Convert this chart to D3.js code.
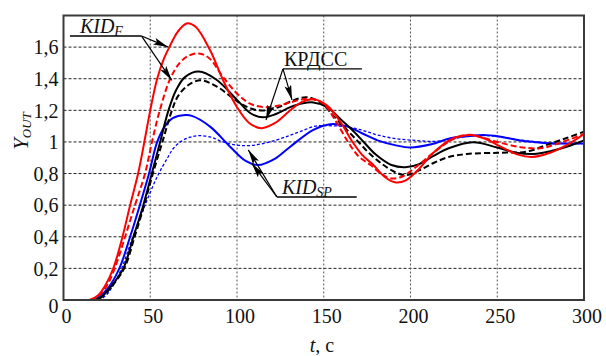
<!DOCTYPE html>
<html><head><meta charset="utf-8">
<script src="https://cdn.jsdelivr.net/npm/d3@7/dist/d3.min.js"></script>
<style>body{margin:0;background:#fff}svg{display:block}svg text{font-family:"Liberation Serif","DejaVu Serif","Times New Roman",serif !important;fill:#111}</style>
</head><body>
<svg id="c" width="606" height="356"></svg>
<script>
// ---- data ----
const xTicks = [0, 50, 100, 150, 200, 250, 300];
const yTicks = [0, 0.2, 0.4, 0.6, 0.8, 1, 1.2, 1.4, 1.6];
const yTickLabels = ["0", "0,2", "0,4", "0,6", "0,8", "1", "1,2", "1,4", "1,6"];

// KID_F (red)
const kidFSolid = [[0,0],[15,0],[20,0.03],[24,0.09],[28.7,0.2],[34,0.4],[38.4,0.6],[43,0.8],[46.6,1.0],[50,1.2],[54,1.4],[58,1.53],[61,1.6],[66,1.7],[71,1.75],[76,1.73],[84.5,1.58],[92,1.39],[100,1.22],[107,1.12],[114,1.087],[122,1.12],[130.7,1.2],[137,1.25],[144,1.27],[152,1.23],[160,1.12],[166.6,1.0],[172,0.92],[178.6,0.854],[185,0.78],[191,0.745],[197,0.755],[205,0.83],[213,0.93],[225,1.025],[234.5,1.044],[243,1.02],[252,0.97],[262,0.92],[270,0.905],[280,0.93],[290,0.98],[300,1.05]];
const kidFDashed = [[0,0],[15,0],[20,0.025],[25,0.09],[29.5,0.2],[35.5,0.4],[41.2,0.6],[47,0.8],[51,1.0],[55.5,1.2],[61.5,1.4],[67,1.5],[72,1.545],[78,1.56],[84,1.53],[92,1.41],[101.8,1.287],[109,1.235],[117,1.22],[124,1.23],[130.7,1.25],[142,1.274],[150,1.24],[157,1.13],[164,1.0],[170,0.91],[177,0.854],[183,0.8],[188,0.77],[195,0.78],[203,0.84],[213,0.93],[225,1.02],[234,1.045],[241,1.03],[250,1.0],[262,0.97],[275,0.96],[285,0.99],[300,1.05]];
// КРДСС (black)
const krdssSolid = [[0,0],[18,0],[22,0.02],[27,0.08],[34.5,0.2],[40.3,0.4],[46,0.6],[50.9,0.8],[55.7,1.0],[60.5,1.2],[65,1.33],[70,1.41],[78,1.445],[88,1.395],[100,1.266],[108,1.18],[115,1.156],[122,1.175],[130.7,1.22],[138,1.245],[144,1.25],[152,1.22],[160,1.14],[166,1.08],[173,1.0],[180,0.92],[189,0.854],[197,0.84],[205,0.86],[213,0.91],[222,0.96],[236,0.998],[250,0.965],[262,0.93],[271,0.924],[280,0.94],[290,0.97],[300,1.01]];
const krdssDashed = [[0,0],[18,0],[22,0.02],[27,0.075],[35,0.2],[41,0.4],[46.5,0.6],[51.5,0.8],[57,1.0],[62.5,1.2],[66,1.29],[72,1.36],[79,1.39],[88.4,1.35],[101.8,1.245],[110,1.205],[117,1.2],[124,1.22],[130.7,1.255],[140,1.283],[148,1.25],[156,1.16],[163,1.08],[170,1.0],[177,0.92],[184.5,0.854],[191,0.81],[197,0.79],[205,0.82],[213,0.865],[222,0.905],[232.6,0.924],[251.8,0.932],[267,0.939],[280.7,0.99],[290,1.025],[300,1.065]];
// KID_SP (blue)
const kidSPSolid = [[0,0],[17,0],[21,0.025],[26,0.08],[32.2,0.2],[38.4,0.4],[44,0.6],[49.3,0.8],[54,1.0],[58.5,1.1],[63,1.15],[70,1.17],[74,1.165],[84.5,1.097],[96,0.97],[105,0.88],[112,0.854],[122,0.895],[130.7,0.97],[144,1.076],[153.7,1.112],[163,1.1],[172,1.055],[181,1.01],[191,0.98],[200,0.965],[212,0.985],[223,1.023],[232.6,1.036],[242,1.044],[251,1.035],[261.5,1.013],[271,1.0],[280.7,0.99],[290,0.99],[300,0.99]];
const kidSPDashed = [[0,0],[20,0],[24,0.025],[28,0.08],[33.5,0.2],[40,0.4],[47,0.6],[54,0.78],[60,0.9],[63.4,0.96],[68,1.005],[73,1.03],[78,1.04],[85,1.03],[92,1.0],[100,0.98],[107.6,0.977],[115,0.99],[123,1.013],[130,1.04],[136.4,1.065],[145,1.1],[152,1.103],[162,1.097],[172,1.075],[181,1.044],[192,1.02],[202.8,1.01],[213,1.003],[222,1.015],[232.6,1.036],[242,1.04],[250,1.035],[262,1.015],[276.6,0.996],[290,0.99],[300,0.99]];

// annotation anchors in data units
const annKIDF = {text:"KID", sub:"F", line:[[3.7,1.67],[45,1.67]], tips:[[60.3,1.6],[62.4,1.39]]};
const annKRDSS = {text:"КРДСС", line:[[126.5,1.462],[172,1.462]], tips:[[116.7,1.139],[131.7,1.266]]};
const annKIDSP = {text:"KID", sub:"SP", line:[[123,0.652],[169,0.652]], tips:[[106.5,0.95],[108.5,0.865]]};

// ---- chart ----
const FONT = '"Liberation Serif","DejaVu Serif","Times New Roman",serif';
const svg = d3.select("#c");
const L = 63.5, R = 584, T = 15.5, B = 300;
const x = d3.scaleLinear().domain([0, 300]).range([L, R]);
const y = d3.scaleLinear().domain([0, 1.8]).range([B, T]);

// grid
svg.append("g").selectAll("line").data(yTicks.filter(d => d > 0)).join("line")
  .attr("x1", L).attr("x2", R).attr("y1", d => y(d)).attr("y2", d => y(d))
  .attr("stroke", "#222").attr("stroke-width", 1).attr("stroke-dasharray", "3,2");
svg.append("g").selectAll("line").data(xTicks.filter(d => d > 0 && d < 300)).join("line")
  .attr("y1", T).attr("y2", B).attr("x1", d => x(d)).attr("x2", d => x(d))
  .attr("stroke", "#555").attr("stroke-width", 1).attr("stroke-dasharray", "2,2");

// curves
const line = d3.line().x(d => x(d[0])).y(d => y(d[1])).curve(d3.curveCatmullRom.alpha(0.5));
const series = [
  {d: kidSPDashed, c: "#0000ff", w: 1.3, dash: "3,2"},
  {d: kidSPSolid, c: "#0000ff", w: 2, dash: null},
  {d: krdssDashed, c: "#000", w: 2, dash: "6,3"},
  {d: krdssSolid, c: "#000", w: 2, dash: null},
  {d: kidFDashed, c: "#ff0000", w: 2, dash: "6,3"},
  {d: kidFSolid, c: "#ff0000", w: 2, dash: null}
];
const defs = svg.append("defs");
defs.append("clipPath").attr("id", "clip").append("rect").attr("x", L).attr("y", T).attr("width", R - L).attr("height", B - T);
svg.append("g").attr("clip-path", "url(#clip)").selectAll("path").data(series).join("path")
  .attr("d", s => line(s.d)).attr("fill", "none").attr("stroke", s => s.c)
  .attr("stroke-width", s => s.w).attr("stroke-dasharray", s => s.dash);

// frame
svg.append("rect").attr("x", L).attr("y", T).attr("width", R - L).attr("height", B - T)
  .attr("fill", "none").attr("stroke", "#3a3a3a").attr("stroke-width", 2);

// axes labels
const xAxis = d3.axisBottom(x).tickValues(xTicks).tickSize(0).tickPadding(0).tickFormat(d3.format("d"));
const gx = svg.append("g").attr("transform", `translate(0,${B})`).call(xAxis).attr("font-family", FONT);
gx.select(".domain").remove();
gx.selectAll("text").attr("font-size", 20).attr("dy", "0").attr("y", 23).attr("dx", 2.5).attr("fill", "#111");

const yAxis = d3.axisLeft(y).tickValues(yTicks).tickSize(0).tickPadding(0).tickFormat((d, i) => yTickLabels[i]);
const gy = svg.append("g").attr("transform", `translate(${L - 5},0)`).call(yAxis).attr("font-family", FONT);
gy.select(".domain").remove();
gy.selectAll("text").attr("font-size", 20).attr("dy", d => d === 0 ? "0.62em" : "0.34em").attr("fill", "#111");

// axis titles
const xt = svg.append("text").attr("x", 322).attr("y", 352).attr("text-anchor", "middle").attr("font-size", 20).attr("font-family", FONT);
xt.append("tspan").attr("font-style", "italic").text("t");
xt.append("tspan").text(", с");

const yt = svg.append("text").attr("transform", "translate(28,131) rotate(-90)").attr("text-anchor", "middle").attr("font-size", 21).attr("font-family", FONT);
yt.append("tspan").attr("font-style", "italic").text("Y");
yt.append("tspan").attr("font-style", "italic").attr("font-size", 13).attr("dy", 3).text("OUT");

// arrows
defs.append("marker").attr("id", "ah").attr("markerUnits", "userSpaceOnUse")
  .attr("markerWidth", 15).attr("markerHeight", 7).attr("refX", 15).attr("refY", 3.5).attr("orient", "auto")
  .append("path").attr("d", "M0,0 L15,3.5 L0,7 L3,3.5 Z").attr("fill", "#000");

function annotate(a, italic, from, shift) {
  const g = svg.append("g");
  g.append("line").attr("x1", x(a.line[0][0])).attr("y1", y(a.line[0][1]))
    .attr("x2", x(a.line[1][0])).attr("y2", y(a.line[1][1])).attr("stroke", "#000").attr("stroke-width", 1.4);
  const sx = from === "right" ? a.line[1] : a.line[0];
  a.tips.forEach(t => {
    g.append("line").attr("x1", x(sx[0])).attr("y1", y(sx[1])).attr("x2", x(t[0])).attr("y2", y(t[1]))
      .attr("stroke", "#000").attr("stroke-width", 1.2).attr("marker-end", "url(#ah)");
  });
  const txt = g.append("text").attr("x", x(a.line[0][0]) + shift).attr("y", y(a.line[0][1]) - 3)
    .attr("font-size", 20).attr("font-family", FONT);
  txt.append("tspan").attr("font-style", italic ? "italic" : "normal").text(a.text);
  if (a.sub) txt.append("tspan").attr("font-style", "italic").attr("font-size", 14).attr("dy", 3).text(a.sub);
}
annotate(annKIDF, true, "right", 10);
annotate(annKRDSS, false, "left", 1);
annotate(annKIDSP, true, "left", 5);
</script>
</body></html>
